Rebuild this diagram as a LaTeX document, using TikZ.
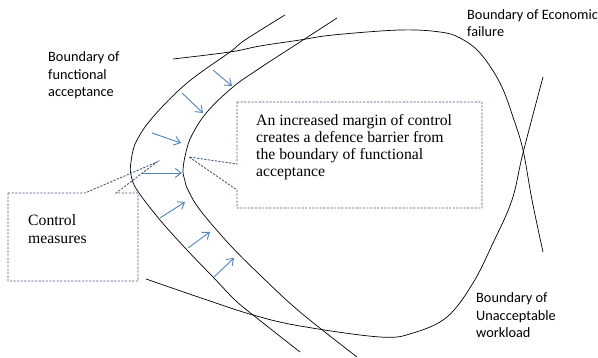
\documentclass[tikz,border=0pt]{standalone}
\usepackage{fontspec}
\setmainfont{Liberation Serif}
\newfontfamily\labelfont{Carlito}
\usetikzlibrary{arrows.meta}
\definecolor{arrowblue}{RGB}{79,129,189}
\definecolor{calloutgrey}{RGB}{72,92,128}
\tikzset{
  boundary/.style={line width=0.7pt, black},
  shiftarrow/.style={arrowblue, line width=0.9pt, -{Straight Barb[length=6pt,width=9pt]}},
  callout/.style={calloutgrey, line width=0.9pt, dash pattern=on 2.2pt off 1.4pt, line join=miter},
  sanslabel/.style={font=\labelfont\fontsize{14.3}{17.5}\selectfont, align=left, anchor=base west, inner sep=0pt},
  seriflabel/.style={font=\fontsize{15.7}{17.1}\selectfont, align=left, anchor=base west, inner sep=0pt},
}
\begin{document}
\begin{tikzpicture}[x=1pt,y=-1pt]
\useasboundingbox (0,0) rectangle (598,358);

% boundary of functional acceptance (outer) and its shifted copy (inner)
\draw[boundary] plot[smooth, tension=0.6] coordinates {
  (285,15) (245,40) (230,52) (187,83) (153,117) (136,142) (131,162) (131,175)
  (137,190) (160,220) (187,250) (213,277) (235,300) (253,315) (300,352)};
\draw[boundary] plot[smooth, tension=0.6] coordinates {
  (337,18) (300,42) (260,68) (233,87) (207,112) (192,135) (186,152) (183,170)
  (185,181) (188,190) (200,210) (230,245) (260,275) (300,312) (357,357)};

% boundary of economic failure
\draw[boundary] plot[smooth, tension=0.6] coordinates {
  (173,59) (230,52) (260,46) (300,40) (333,35) (400,30) (440,32) (460,38)
  (480,53) (500,83) (513,117) (523,150) (532,200) (543,252)};

% boundary of unacceptable workload
\draw[boundary] plot[smooth, tension=0.6] coordinates {
  (543,77) (523,153) (512,200) (493,243) (473,283) (447,317) (413,333)
  (380,337) (300,326) (253,315) (207,300) (146,279)};

% control shift arrows
\draw[shiftarrow] (213,70) -- (232,86);
\draw[shiftarrow] (182,93) -- (203,113);
\draw[shiftarrow] (152,133) -- (181,143);
\draw[shiftarrow] (142,173) -- (182,173);
\draw[shiftarrow] (160,218) -- (185,202);
\draw[shiftarrow] (188,248) -- (210,232);
\draw[shiftarrow] (214,277) -- (234,258);

% callouts
\draw[callout] (237,102) -- (482,102) -- (482,208) -- (237,208) -- (237,190)
  -- (189,157) -- (237,164) -- cycle;
\draw[callout] (8,193) -- (85,193) -- (157,162) -- (116,193) -- (138,193)
  -- (138,281) -- (8,281) -- cycle;

% texts (anchored at the baseline of their last line)
\node[seriflabel] (margin) at (256,176.8) {An increased margin of control\\creates a defence barrier from\\the boundary of functional\\acceptance};
\node[seriflabel] (control) at (28,243.1) {Control\\measures};
\node[sanslabel] (functional) at (48,97) {Boundary of\\functional\\acceptance};
\node[sanslabel] (economic) at (467,37) {Boundary of Economic\\failure};
\node[sanslabel] (workload) at (476,338) {Boundary of\\Unacceptable\\workload};
\end{tikzpicture}
\end{document}
